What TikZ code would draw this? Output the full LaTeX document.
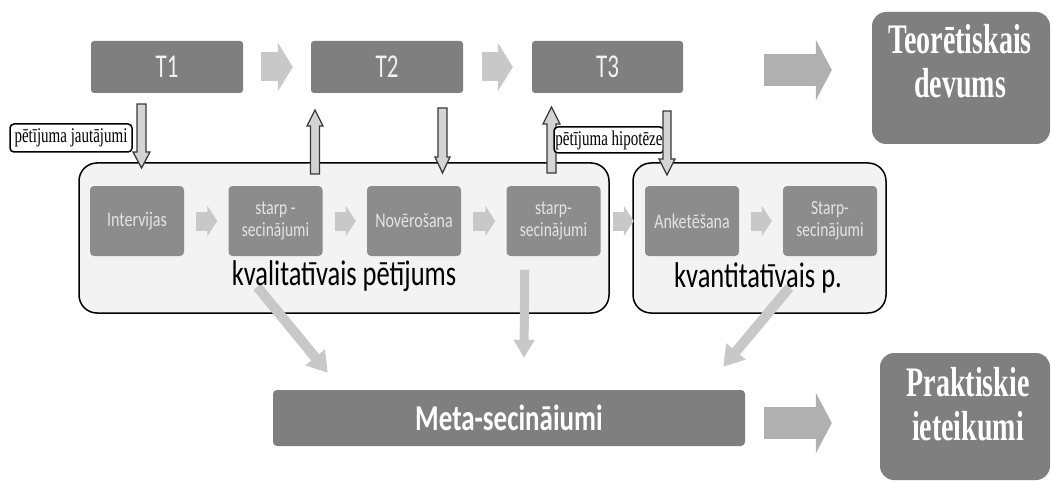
\documentclass[tikz,border=0pt]{standalone}
\usepackage{fontspec}
\setmainfont{Liberation Serif}
\setsansfont{Carlito}
\usepackage{graphicx}
\usetikzlibrary{arrows.meta}

\definecolor{boxgray}{HTML}{7F7F7F}
\definecolor{innergray}{HTML}{8C8C8C}
\definecolor{flowgray}{HTML}{C8C8C8}
\definecolor{biggray}{HTML}{B0B0B0}
\definecolor{panelfill}{HTML}{F3F3F3}
\definecolor{hollowfill}{HTML}{D4D4D4}
\definecolor{rimgray}{HTML}{3A3A3A}
\definecolor{softwhite}{HTML}{F2F2F2}
\definecolor{innertext}{HTML}{E4E4E4}

% stretched lettering
\newcommand\tallt[2][1.3]{\scalebox{1}[#1]{#2}}
\newcommand\twoline[3][1.3]{\tallt[#1]{\begin{tabular}{@{}c@{}}#2\\#3\end{tabular}}}

% hollow block arrow: centre x, tail y, head-base y, tip y, shaft half, head half
\newcommand\hollowarrow[6]{%
  \filldraw[hollowstyle] ({#1-#5},#2) -- ({#1+#5},#2) -- ({#1+#5},#3) -- ({#1+#6},#3)
    -- (#1,#4) -- ({#1-#6},#3) -- ({#1-#5},#3) -- cycle;}

\tikzset{
  stagebox/.style={fill=boxgray, rounded corners=3pt, inner sep=0pt,
    minimum width=152pt, minimum height=52pt, text=softwhite,
    font=\sffamily\fontsize{23}{27}\selectfont},
  panelbox/.style={fill=panelfill, draw=black, line width=1.5pt, rounded corners=18pt,
    minimum height=150pt, inner sep=0pt},
  stepbox/.style={fill=innergray, rounded corners=4pt, inner sep=0pt,
    minimum width=94pt, minimum height=70pt, text=innertext,
    font=\sffamily\fontsize{16}{18}\selectfont},
  pairbox/.style={stepbox, font=\sffamily\fontsize{15.5}{17}\selectfont},
  panellabel/.style={anchor=base, inner sep=0pt, text=black,
    font=\sffamily\fontsize{26.5}{30}\selectfont},
  outcome/.style={fill=boxgray, rounded corners=14pt, inner sep=0pt},
  outcometext/.style={text=white, inner sep=0pt,
    font=\rmfamily\bfseries\fontsize{28}{29}\selectfont},
  tagbox/.style={draw=black, fill=white, line width=1.5pt, rounded corners=4pt,
    inner sep=0pt, font=\rmfamily\fontsize{15}{17}\selectfont},
  hollowstyle/.style={fill=hollowfill, draw=rimgray, line width=1.3pt},
  stageflow/.style={flowgray, line width=29pt, -{Triangle[length=15pt,width=48pt]}},
  stepflow/.style={flowgray, line width=19pt, -{Triangle[length=10pt,width=30pt]},
    shorten <=12pt, shorten >=11pt},
  bigflow/.style={biggray, line width=32pt, -{Triangle[length=16pt,width=60pt]}},
  mergeflow/.style={flowgray, line width=10pt, -{Triangle[length=20pt,width=24pt]}},
}

\begin{document}
\begin{tikzpicture}[x=1pt, y=-1pt]
  \fill[white] (0,0) rectangle (1051,481);
  \useasboundingbox (0,0) rectangle (1051,481);

  % research panels
  \node[panelbox, minimum width=530pt] (qual) at (344,238) {};
  \node[panelbox, minimum width=253pt] (quant) at (759.5,238) {};

  % meta conclusions
  \node[fill=boxgray, rounded corners=4pt, inner sep=0pt, minimum width=472pt,
    minimum height=56pt, text=white, font=\sffamily\bfseries\fontsize{27}{30}\selectfont]
    (meta) at (509,418) {\tallt[1.35]{Meta-secināiumi}};

  % flows from the panels into the meta conclusions
  \draw[mergeflow] ([xshift=179pt,yshift=27pt]qual.south west)
    -- ([xshift=55pt,yshift=17pt]meta.north west);
  \draw[mergeflow, line width=9pt, -{Triangle[length=18pt,width=20pt]}]
    ([xshift=-85pt,yshift=44pt]qual.south east) -- ([xshift=15pt,yshift=32pt]meta.north);
  \draw[mergeflow] ([xshift=157pt,yshift=26pt]quant.south west)
    -- ([xshift=-22pt,yshift=23pt]meta.north east);

  % steps inside the panels
  \node[stepbox] (interv) at (137,221) {\tallt{Intervijas}};
  \node[pairbox] (sa) at (275.5,221) {\twoline{starp -}{secinājumi}};
  \node[stepbox] (novero) at (414,221) {\tallt{Novērošana}};
  \node[pairbox] (sb) at (553.5,221) {\twoline{starp-}{secinājumi}};
  \node[stepbox] (anket) at (692,221) {\tallt{Anketēšana}};
  \node[pairbox] (sc) at (830,221) {\twoline{Starp-}{secinājumi}};

  \draw[stepflow] (interv) -- (sa);
  \draw[stepflow] (sa) -- (novero);
  \draw[stepflow] (novero) -- (sb);
  \draw[stepflow] (sb) -- (anket);
  \draw[stepflow] (anket) -- (sc);

  \node[panellabel] (quallab) at (344,285) {\tallt[1.35]{kvalitatīvais pētījums}};
  \node[panellabel] (quantlab) at (758,287) {\tallt[1.35]{kvantitatīvais p.}};

  % theory stages
  \node[stagebox] (T1) at (167,67) {\tallt[1.45]{T1}};
  \node[stagebox] (T2) at (387,67) {\tallt[1.45]{T2}};
  \node[stagebox, minimum width=151pt] (T3) at (607.5,67) {\tallt[1.45]{T3}};
  \draw[stageflow, shorten <=18pt, shorten >=18pt] (T1) -- (T2);
  \draw[stageflow, shorten <=19pt, shorten >=19pt] (T2) -- (T3);

  % exchanges between stages and panels
  \hollowarrow{141.5}{104}{152}{168}{4.5}{8.5}
  \hollowarrow{315}{174}{126}{110}{4.5}{8}
  \hollowarrow{442.5}{108}{157}{173}{4.5}{7.5}
  \hollowarrow{551.5}{173}{124}{107}{4.5}{8.5}

  \node[tagbox, minimum width=122pt, minimum height=28pt] (qtag) at (71,138)
    {\tallt[1.4]{pētījuma jautājumi}};
  \node[tagbox, minimum width=110pt, minimum height=26pt] (htag) at (609,140)
    {\tallt[1.4]{pētījuma hipotēze}};

  \hollowarrow{667}{111}{159}{175}{4}{8}

  % outcomes
  \node[outcome, minimum width=178pt, minimum height=132pt] (teor) at (961,78) {};
  \node[outcometext] (teortxt) at (960,67) {\twoline[1.5]{Teorētiskais}{devums}};
  \node[outcome, minimum width=170pt, minimum height=127pt] (prakt) at (965,416.5) {};
  \node[outcometext] (prakttxt) at (968,410) {\twoline[1.5]{Praktiskie}{ieteikumi}};

  \draw[bigflow] ([xshift=81pt,yshift=-3pt]T3.east) -- ([xshift=-40pt,yshift=8pt]teor.west);
  \draw[bigflow] ([xshift=19pt,yshift=-5pt]meta.east) -- ([xshift=-48pt,yshift=-6.5pt]prakt.west);
\end{tikzpicture}
\end{document}
